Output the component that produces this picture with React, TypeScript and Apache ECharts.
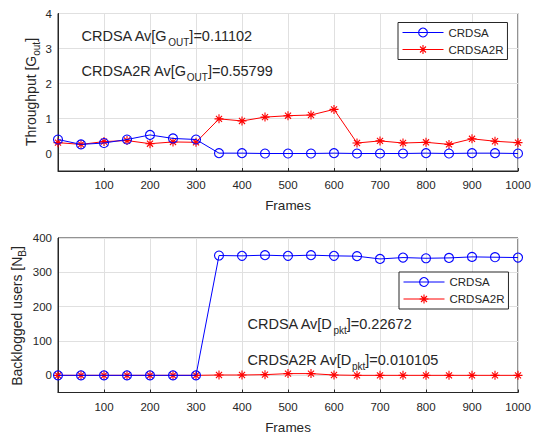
import React, { useEffect, useRef } from 'react';
import * as echarts from 'echarts';

const frames = [0, 50, 100, 150, 200, 250, 300, 350, 400, 450, 500, 550, 600, 650, 700, 750, 800, 850, 900, 950, 1000];
const seriesNames = ['CRDSA', 'CRDSA2R'];
const throughputCRDSA = [0.40, 0.26, 0.30, 0.40, 0.53, 0.43, 0.40, 0.01, 0.01, 0.0, 0.0, 0.0, 0.01, 0.0, 0.0, 0.0, 0.01, 0.0, 0.01, 0.01, 0.0];
const throughputCRDSA2R = [0.31, 0.26, 0.34, 0.37, 0.28, 0.33, 0.32, 0.99, 0.93, 1.04, 1.08, 1.10, 1.26, 0.30, 0.36, 0.30, 0.32, 0.26, 0.42, 0.35, 0.31];
const backlogCRDSA = [0, 0, 0, 0, 0, 0, 0, 349, 348, 350, 348, 350, 348, 347, 339, 343, 341, 342, 345, 344, 343];
const backlogCRDSA2R = [0, 0, 0, 0, 0, 0, 0, 1, 1, 2, 5, 5, 1, 0, 0, 0, 0, 0, 0, 0, 0];

const xTicks = { min: 0, max: 1000, interval: 100 };
const yTopTicks = { min: -0.5, max: 4, interval: 0.5 };
const yBottomTicks = { min: -50, max: 400, interval: 50 };

const yTitleTop = { pre: 'Throughput [G', sub: 'out', post: ']' };
const yTitleBottom = { pre: 'Backlogged users [N', sub: 'B', post: ']' };
const annotationsTop = [
  { pre: 'CRDSA Av[G', sub: 'OUT', post: ']=0.11102' },
  { pre: 'CRDSA2R Av[G', sub: 'OUT', post: ']=0.55799' },
];
const annotationsBottom = [
  { pre: 'CRDSA Av[D', sub: 'pkt', post: ']=0.22672' },
  { pre: 'CRDSA2R Av[D', sub: 'pkt', post: ']=0.010105' },
];

const FONT = '"Liberation Sans", Arial, Helvetica, sans-serif';
const DARK = '#262626';
const GRID = '#e0e0e0';
const BLUE = '#0000ff';
const RED = '#ff0000';
const STAR = 'path://M5,0L5,10M0,5L10,5M1.6,1.6L8.4,8.4M1.6,8.4L8.4,1.6';

const richStyles = (size: number, subSize: number, lh: number) => ({
  a: { fontSize: size, fontFamily: FONT, fill: DARK, color: DARK, lineHeight: lh },
  s: { fontSize: subSize, fontFamily: FONT, fill: DARK, color: DARK, lineHeight: subSize, verticalAlign: 'bottom' },
});

const richText = (a: { pre: string; sub: string; post: string }) => `{a|${a.pre}}{s|${a.sub}}{a|${a.post}}`;

export default function App() {
  const ref = useRef<HTMLDivElement>(null);
  useEffect(() => {
    if (!ref.current) return;
    const chart = echarts.init(ref.current, undefined, { renderer: 'svg' });

    const xAxisBase = (gridIndex: number) => ({
      type: 'value',
      gridIndex,
      min: xTicks.min,
      max: xTicks.max,
      interval: xTicks.interval,
      axisLine: { show: true, onZero: false, lineStyle: { color: DARK, width: 1 } },
      axisTick: { show: true, inside: true, length: 3, lineStyle: { color: DARK } },
      axisLabel: {
        color: DARK, fontSize: 11.5, fontFamily: FONT, margin: 8,
        formatter: (v: number) => (v === 0 ? '' : String(v)),
      },
      splitLine: { show: true, lineStyle: { color: GRID, width: 1 } },
      name: 'Frames',
      nameLocation: 'middle',
      nameGap: 27.5,
      nameTextStyle: { color: DARK, fontSize: 13.5, fontFamily: FONT },
    });

    const isMultiple = (v: number, m: number) => Math.abs(v / m - Math.round(v / m)) < 1e-6;

    const yAxisBase = (gridIndex: number, t: any, major: number) => ({
      type: 'value',
      gridIndex,
      min: t.min,
      max: t.max,
      interval: t.interval,
      axisLine: { show: true, onZero: false, lineStyle: { color: DARK, width: 1 } },
      axisTick: { show: false },
      axisLabel: {
        color: DARK, fontSize: 11.5, fontFamily: FONT, margin: 6,
        formatter: (v: number) => (v >= 0 && isMultiple(v, major) ? String(Math.round(v)) : ''),
      },
      splitLine: { show: true, lineStyle: { color: ['rgba(0,0,0,0)', GRID], width: 1 } },
    });

    const seriesStyle = (name: string, color: string, xi: number, data: number[]) => ({
      name,
      type: 'line',
      xAxisIndex: xi,
      yAxisIndex: xi,
      data: frames.map((f, i) => [f, data[i]]),
      symbol: name === 'CRDSA' ? 'circle' : STAR,
      symbolSize: 9,
      showAllSymbol: true,
      clip: false,
      lineStyle: { color, width: 1 },
      itemStyle: { color: name === 'CRDSA' ? 'rgba(0,0,0,0)' : color, borderColor: color, borderWidth: 1.1 },
      z: name === 'CRDSA' ? 3 : 2,
    });

    const legendBase = (left: number, top: number) => ({
      data: seriesNames,
      orient: 'vertical',
      left,
      top,
      itemWidth: 41,
      itemHeight: 11,
      itemGap: 5,
      padding: [4, 4, 4, 4],
      borderColor: DARK,
      borderWidth: 1,
      backgroundColor: '#ffffff',
      selectedMode: false,
      textStyle: { color: DARK, fontSize: 11.5, fontFamily: FONT, padding: [0, 0, 0, 0] },
      lineStyle: { width: 1 },
      itemStyle: { borderWidth: 1.1 },
    });

    const annot = (list: any[], left: number, tops: number[]) =>
      list.map((a, i) => ({
        type: 'text',
        x: left,
        y: tops[i],
        z: 100,
        style: {
          text: richText(a),
          rich: richStyles(14.5, 10, 23),
          verticalAlign: 'top',
        },
      }));

    const yTitle = (t: any, x: number, y: number) => ({
      type: 'text',
      x,
      y,
      rotation: Math.PI / 2,
      z: 100,
      style: {
        text: richText(t),
        rich: richStyles(14, 10, 20),
        align: 'center',
        verticalAlign: 'middle',
      },
    });

    chart.setOption({
      animation: false,
      backgroundColor: '#ffffff',
      grid: [
        { left: 58, top: 13.5, width: 460, height: 157.5, show: true, borderColor: DARK, borderWidth: 1, backgroundColor: 'transparent' },
        { left: 58, top: 238, width: 460, height: 156, show: true, borderColor: DARK, borderWidth: 1, backgroundColor: 'transparent' },
      ],
      xAxis: [xAxisBase(0), xAxisBase(1)],
      yAxis: [yAxisBase(0, yTopTicks, 1), yAxisBase(1, yBottomTicks, 100)],
      legend: [legendBase(398, 22.5), legendBase(399, 272)],
      series: [
        seriesStyle('CRDSA', BLUE, 0, throughputCRDSA),
        seriesStyle('CRDSA2R', RED, 0, throughputCRDSA2R),
        seriesStyle('CRDSA', BLUE, 1, backlogCRDSA),
        seriesStyle('CRDSA2R', RED, 1, backlogCRDSA2R),
      ],
      graphic: [
        yTitle(yTitleTop, 31, 92),
        yTitle(yTitleBottom, 17, 316),
        ...annot(annotationsTop, 81.5, [24, 59.5]),
        ...annot(annotationsBottom, 247.5, [312, 348]),
      ],
    });
    return () => chart.dispose();
  }, []);
  return <div ref={ref} style={{ position: 'fixed', left: 0, top: 0, width: 534, height: 435, background: '#fff' }} />;
}
